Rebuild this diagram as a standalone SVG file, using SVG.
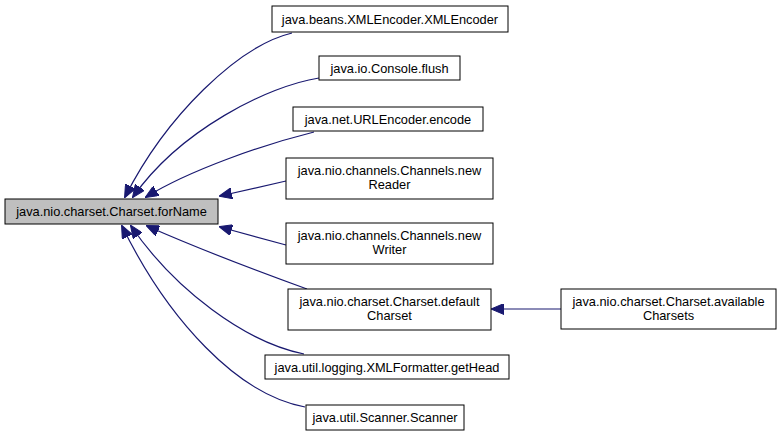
<svg xmlns="http://www.w3.org/2000/svg" width="781" height="437" viewBox="0 0 781 437">
<style>
.n rect{fill:#fff;stroke:#000;stroke-width:1}
.m rect{fill:#bfbfbf;stroke:#000;stroke-width:1}
text{font-family:"Liberation Sans",Arial,sans-serif;font-size:12.8px;fill:#000;text-anchor:middle}
.e path{fill:none;stroke:#191970;stroke-width:1.2;marker-end:url(#a)}
</style>
<defs>
<marker id="a" markerWidth="13" markerHeight="11" refX="12" refY="5.5" orient="auto" markerUnits="userSpaceOnUse">
<path d="M0,0 L13,5.5 L0,11 z" fill="#191970" stroke="#191970"/>
</marker>
</defs>
<rect width="781" height="437" fill="#fff"/>
<g class="e" id="edges">
<path d="M292,33 C238,46 166,116 125,197"/>
<path d="M319,78 C268,86 180,130 133,197"/>
<path d="M314,132 C262,145 190,170 146,197"/>
<path d="M286,181 L220,196"/>
<path d="M286,245 L220,227"/>
<path d="M307,289 C260,272 190,245 147,226"/>
<path d="M304,354 C245,342 175,290 131,226"/>
<path d="M305,407 C238,395 168,320 122,226"/>
<path d="M561,309 L492,309"/>
</g>
<g class="m" id="forName"><rect x="5" y="199" width="213" height="25"/><text x="111.5" y="216">java.nio.charset.Charset.forName</text></g>
<g class="n" id="xmlencoder"><rect x="272" y="6" width="236" height="26"/><text x="390" y="23.5">java.beans.XMLEncoder.XMLEncoder</text></g>
<g class="n" id="console"><rect x="319" y="56" width="141" height="24"/><text x="389.5" y="72.5">java.io.Console.flush</text></g>
<g class="n" id="urlencoder"><rect x="293" y="107" width="190" height="24"/><text x="388" y="123.5">java.net.URLEncoder.encode</text></g>
<g class="n" id="newreader"><rect x="286" y="158" width="207" height="41"/><text x="389.5" y="175">java.nio.channels.Channels.new</text><text x="389.5" y="189">Reader</text></g>
<g class="n" id="newwriter"><rect x="286" y="223" width="207" height="41"/><text x="389.5" y="240">java.nio.channels.Channels.new</text><text x="389.5" y="254">Writer</text></g>
<g class="n" id="defaultcharset"><rect x="288" y="289" width="203" height="41"/><text x="389.5" y="306">java.nio.charset.Charset.default</text><text x="389.5" y="320">Charset</text></g>
<g class="n" id="gethead"><rect x="265" y="355" width="244" height="24"/><text x="387" y="371.5">java.util.logging.XMLFormatter.getHead</text></g>
<g class="n" id="scanner"><rect x="306" y="405" width="158" height="25"/><text x="385" y="422">java.util.Scanner.Scanner</text></g>
<g class="n" id="availablecharsets"><rect x="561" y="289" width="215" height="40"/><text x="668.5" y="306">java.nio.charset.Charset.available</text><text x="668.5" y="320">Charsets</text></g>
</svg>
